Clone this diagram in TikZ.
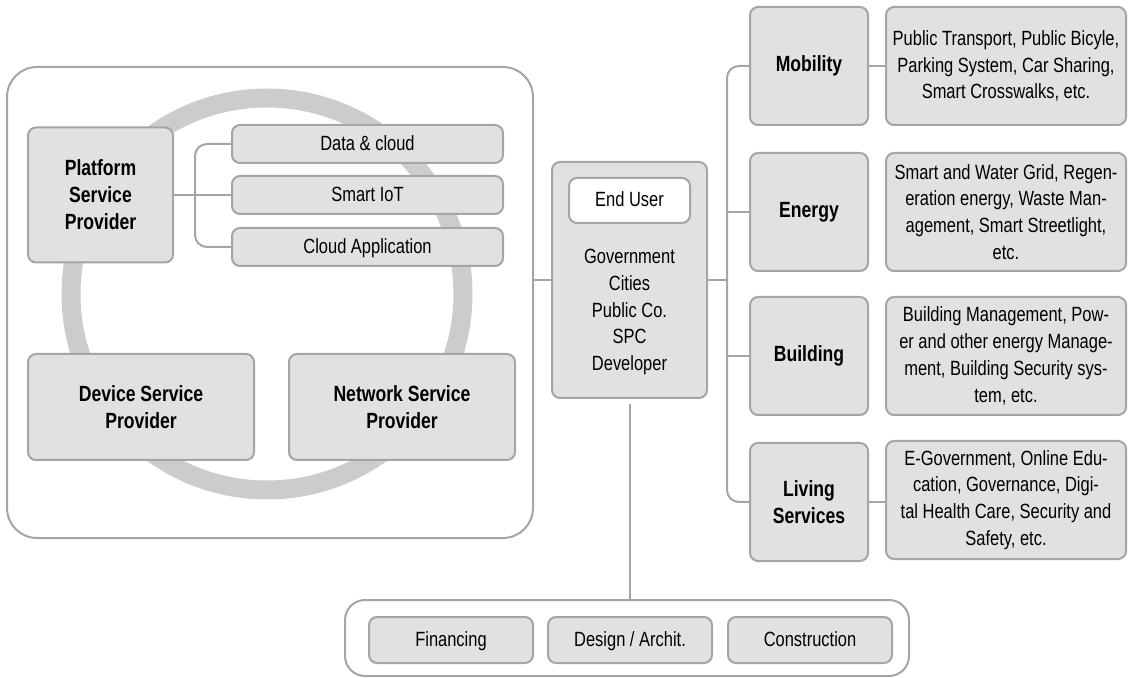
\documentclass[tikz,border=0pt]{standalone}
\usepackage{fontspec}
\setmainfont{Liberation Sans}[FakeStretch=0.8]
\definecolor{boxgray}{RGB}{225,225,225}
\definecolor{linegray}{RGB}{165,165,165}
\definecolor{ringgray}{RGB}{204,204,204}
\tikzset{>=latex}
\tikzset{
    box/.style={draw=linegray, fill=boxgray, line width=1pt, rounded corners=4pt, align=center, inner sep=0pt},
    item/.style={box, text height=1.6ex, text depth=.4ex},
    head/.style={box, font=\fontsize{11}{13.5}\selectfont\bfseries},
    group/.style={draw=linegray, line width=1pt, rounded corners=15pt},
    link/.style={draw=linegray, line width=1pt},
}

\begin{document}
\begin{tikzpicture}[x=0.5pt, y=-0.5pt, font=\fontsize{10.3}{13.4}\selectfont]
    \useasboundingbox (0,0) rectangle (1130,678);

    % providers
    \node at (270,302.5) [group, minimum width=263pt, minimum height=235.5pt](left){};
    \draw [ringgray, line width=9.5pt] (267,294) circle (98pt);
    \node at (100.5,195) [head, minimum width=72.5pt, minimum height=67.5pt](platform){Platform\\Service\\Provider};
    \node at (367.5,144) [item, minimum width=135.5pt, minimum height=19pt](data){Data \& cloud};
    \node at (367.5,195) [item, minimum width=135.5pt, minimum height=19pt](iot){Smart IoT};
    \node at (367.5,247) [item, minimum width=135.5pt, minimum height=19pt](capp){Cloud Application};
    \node at (141,407) [head, minimum width=113pt, minimum height=53pt](device){Device Service\\Provider};
    \node at (402,407) [head, minimum width=113pt, minimum height=53pt](network){Network Service\\Provider};
    \draw [link] (platform) -- (iot);
    \draw [link, rounded corners=6pt] (data.west) -| ([xshift=-18pt]capp.west) -- (capp.west);

    % end user
    \node at (629.5,280) [box, minimum width=77.5pt, minimum height=118pt](user){};
    \node at (629.5,200.5) [item, fill=white, minimum width=60.5pt, minimum height=22.5pt](enduser){End User};
    \node at (629.5,312) [align=center, inner sep=0pt](users){Government\\Cities\\Public Co.\\SPC\\Developer};
    \draw [link] (user.west) -- (user.west -| left.east);

    % services
    \coordinate (bus) at (727,0);
    \node at (809,66) [head, minimum width=59pt, minimum height=59pt](mobility){Mobility};
    \node at (809,212) [head, minimum width=59pt, minimum height=59pt](energy){Energy};
    \node at (809,356) [head, minimum width=59pt, minimum height=59pt](building){Building};
    \node at (809,502) [head, minimum width=59pt, minimum height=59pt](living){Living\\Services};
    \node at (1006,66) [box, minimum width=120pt, minimum height=59pt](mobilityinfo){Public Transport, Public Bicyle,\\Parking System, Car Sharing,\\Smart Crosswalks, etc.};
    \node at (1006,212) [box, minimum width=120pt, minimum height=59pt](energyinfo){Smart and Water Grid, Regen-\\eration energy, Waste Man-\\agement, Smart Streetlight,\\etc.};
    \node at (1006,356) [box, minimum width=120pt, minimum height=59pt](buildinginfo){Building Management, Pow-\\er and other energy Manage-\\ment, Building Security sys-\\tem, etc.};
    \node at (1006,500) [box, minimum width=120pt, minimum height=59pt](livinginfo){E-Government, Online Edu-\\cation, Governance, Digi-\\tal Health Care, Security and\\Safety, etc.};
    \draw [link] (user.east) -- (user.east -| bus);
    \draw [link, rounded corners=6pt] (mobility.west) -| (bus |- living.west) -- (living.west);
    \draw [link] (energy.west) -- (energy.west -| bus);
    \draw [link] (building.west) -- (building.west -| bus);
    \draw [link] (mobility) -- (mobilityinfo);
    \draw [link] (living.east) -- (living.east -| livinginfo.west);

    % project partners
    \node at (627,638) [group, rounded corners=10pt, minimum width=282pt, minimum height=38pt](base){};
    \node at (451,640) [item, minimum width=82pt, minimum height=23pt](financing){Financing};
    \node at (630,640) [item, minimum width=82pt, minimum height=23pt](design){Design / Archit.};
    \node at (810,640) [item, minimum width=82pt, minimum height=23pt](construction){Construction};
    \draw [link, shorten <=2.5pt] (user.south) -- (user.south |- base.north);
\end{tikzpicture}
\end{document}
